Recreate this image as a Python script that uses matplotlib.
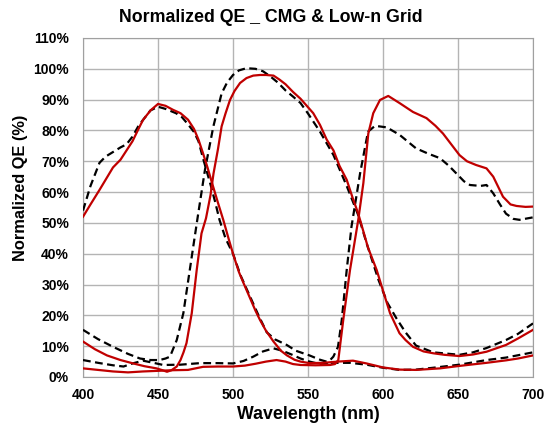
import numpy as np
import matplotlib.pyplot as plt

plt.rcParams['font.family'] = ['Liberation Sans', 'DejaVu Sans']

# Blue channel
blue_solid_x = [400, 405, 411, 420, 425, 429, 433, 437, 440, 445, 450, 455, 460, 465, 470, 474, 477, 480, 483, 486, 490, 493.5, 497, 500, 504, 507, 511, 515, 518, 522, 527, 532, 536, 541, 545, 551, 560, 570, 580, 589, 600, 611, 622, 638, 651, 669, 682, 690, 700]
blue_solid_y = [52, 56, 60.7, 68, 70.5, 73.5, 76.5, 80.5, 83.4, 86.5, 88.6, 88, 86.7, 85.6, 83.5, 80.5, 77, 72.6, 68, 63, 56.5, 51, 45, 40, 34, 30.5, 26, 21.5, 18.5, 15, 11.5, 8.5, 7, 5.6, 5, 4.5, 4.6, 5, 5.3, 4.4, 3.1, 2.4, 2.3, 2.8, 3.6, 4.6, 5.4, 6, 7]
blue_dash_x = [400, 405, 411, 415, 420, 425, 429, 433, 437, 440, 445, 450, 455, 462, 466, 470, 474, 477, 480, 484.7, 488, 491, 495, 500, 505, 511, 517, 522.5, 528, 535.8, 542, 551, 558, 565, 578, 589, 600, 611, 622, 633.5, 651, 669, 682, 700]
blue_dash_y = [54, 62, 69.5, 71.5, 73, 74.5, 75.5, 78, 81.5, 83.4, 86.5, 87.7, 87, 85.6, 84.3, 82, 79.5, 76.5, 71, 63, 57, 51, 45, 40, 33, 26.5, 20, 14.5, 12.2, 10.4, 8.5, 7, 5.6, 4.6, 4.6, 4, 3, 2.3, 2.4, 3, 4, 5.5, 6.3, 8]

# Green channel
green_solid_x = [400, 408, 416, 425, 433.5, 441, 449, 453, 456, 459, 462.5, 465, 467, 469, 472.5, 475.8, 479, 482, 485, 487, 490, 492.4, 495, 498, 501, 504.7, 509, 513.5, 518, 522, 527, 531, 535, 540, 545, 553.5, 558, 562.5, 567, 571, 575.8, 579.5, 583.5, 586, 590, 595.8, 600, 604.7, 611, 615, 620, 627, 633.5, 641, 651, 660, 669, 682, 690, 700]
green_solid_y = [11.5, 9, 7, 5.5, 4.4, 3.5, 2.8, 2.2, 1.7, 2.2, 3.4, 5.5, 8, 11, 20.7, 34.7, 46.6, 51.5, 59, 66, 74, 81.3, 85.5, 89.9, 92.8, 95.4, 97, 97.8, 98, 98, 97.8, 96.5, 95, 92.5, 90.3, 85.6, 81.8, 77, 73.5, 68.5, 64, 58.5, 53, 48.8, 42, 34.7, 28, 20.7, 14.2, 12, 9.8, 8.3, 7.7, 7.2, 6.8, 7.3, 8.2, 10.4, 12.5, 15.3]
green_dash_x = [400, 410, 420, 430, 438, 445, 451, 455, 458, 462.5, 466.9, 470.2, 473.5, 476.5, 481.3, 486.9, 492.4, 496, 500, 504, 509, 515, 520, 525, 530, 535, 540, 545, 550, 558, 567, 575.8, 583.5, 589, 597, 603, 609, 615, 622, 633.5, 651, 660, 669, 682, 690, 700]
green_dash_y = [15.3, 12.3, 9.8, 7.5, 6, 5.5, 5.5, 6, 6.6, 12, 20.7, 31.5, 42.3, 52, 67.2, 81.3, 92, 95.5, 98, 99.5, 100.2, 100, 99.2, 97.5, 95.5, 93, 91, 88.9, 85.5, 79.6, 72, 62, 52.5, 43.5, 31.5, 24, 19, 14.5, 10.2, 8, 7.2, 8, 9.4, 12, 14, 17.4]

# Red channel
red_solid_x = [400, 410, 420, 430, 440, 450, 460, 470, 475, 480, 490, 500, 508, 515, 522, 529, 535, 540, 545, 555, 564.7, 568, 570.2, 573.5, 578, 583.5, 586.9, 590.2, 593.5, 598, 603.5, 611, 620, 629, 635, 640, 651, 656, 662, 669, 673.5, 677, 680, 685, 689, 695, 700]
red_solid_y = [2.8, 2.3, 1.8, 1.5, 1.8, 2, 2.2, 2.3, 2.8, 3.3, 3.4, 3.4, 3.7, 4.3, 5, 5.5, 5, 4.2, 3.9, 3.8, 3.9, 4.2, 5.5, 18.5, 34.7, 51, 62.9, 79, 85.6, 89.9, 91.2, 88.9, 86, 84, 81.5, 79, 72, 70, 68.8, 67.7, 65, 61.5, 58.5, 56, 55.5, 55.2, 55.3]
red_dash_x = [400, 410, 420, 427, 433, 440, 447, 453.5, 465, 478, 490, 500, 507, 513.5, 520, 527, 533, 540, 545, 551, 558, 563, 566.9, 570, 572.5, 575.8, 579, 584.7, 590, 594.7, 602.5, 611, 622, 630, 638, 644, 649, 654, 658, 665, 669, 673.5, 678, 682, 687, 691, 700]
red_dash_y = [5.5, 4.6, 3.8, 3.4, 4.4, 5.3, 4.6, 3.9, 4, 4.5, 4.5, 4.4, 5.2, 6.6, 8.3, 9.3, 8.5, 7.1, 6, 5, 4.2, 4.6, 6.6, 9.8, 18.5, 34.7, 48.8, 66, 79.6, 81.5, 81, 78.6, 74.2, 72.5, 71, 68.5, 66, 63.5, 62.3, 62, 62.3, 59.6, 56, 53, 51.3, 51, 51.8]

red = '#c00000'
fig = plt.figure(figsize=(5.44, 4.28), dpi=100)
ax = fig.add_axes([83/544, 1-377/428, 450/544, 339/428])

for xs, ys in [(blue_dash_x, blue_dash_y), (green_dash_x, green_dash_y), (red_dash_x, red_dash_y)]:
    ax.plot(xs, np.array(ys) / 100, color='black', lw=1.6, ls=(0, (3.5, 2)),
            solid_joinstyle='round', zorder=3)
for xs, ys in [(blue_solid_x, blue_solid_y), (green_solid_x, green_solid_y), (red_solid_x, red_solid_y)]:
    ax.plot(xs, np.array(ys) / 100, color=red, lw=1.6, solid_joinstyle='round', zorder=4)

ax.set_xlim(400, 700)
ax.set_ylim(0, 1.1)
ax.set_xticks(np.arange(400, 701, 50))
ax.set_yticks(np.arange(0, 1.11, 0.1))
ax.set_yticklabels([f"{v}%" for v in range(0, 111, 10)])
ax.grid(True, color='#b4b4b4', lw=1)
ax.set_axisbelow(True)
for s in ax.spines.values():
    s.set_color('#a0a0a0')
ax.tick_params(length=0, labelsize=10)
ax.tick_params(axis='y', pad=10)
ax.tick_params(axis='x', pad=8)
for lab in ax.get_xticklabels() + ax.get_yticklabels():
    lab.set_fontweight('bold')

ax.set_xlabel("Wavelength (nm)", fontsize=12.8, fontweight='bold', labelpad=3)
ax.set_ylabel("Normalized QE (%)", fontsize=11.8, fontweight='bold', labelpad=6)
ax.yaxis.set_label_coords(-0.122, 0.557)
fig.text(271/544, 1 - 18/428, "Normalized QE _ CMG & Low-n Grid",
         fontsize=12.8, fontweight='bold', ha='center', va='center')

fig.savefig("out.png", dpi=100)
